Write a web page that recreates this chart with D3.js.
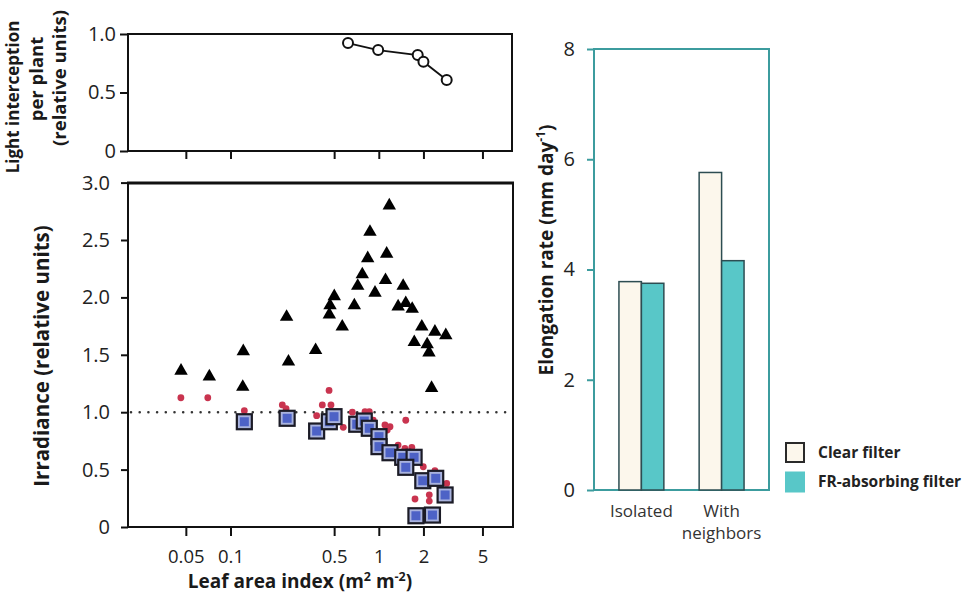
<!DOCTYPE html>
<html>
<head>
<meta charset="utf-8">
<script src="https://cdn.jsdelivr.net/npm/d3@7"></script>
<style>
  html, body { margin: 0; padding: 0; background: #fff; }
  svg { display: block; font-family: "Open Sans", "Noto Sans", sans-serif; }
</style>
</head>
<body>
<svg id="chart" width="969" height="594"></svg>
<script>
// ---------- DATA ----------
const laiTicks = [0.05, 0.1, 0.5, 1, 2, 5];
const irrTicks = [0, 0.5, 1.0, 1.5, 2.0, 2.5, 3.0];
const lightTicks = [0, 0.5, 1.0];

// top panel: light interception per plant
const lightLAI = [0.62, 0.99, 1.83, 2.0, 2.87];
const lightVal = [0.923, 0.863, 0.82, 0.763, 0.607];

// triangles (black)
const triLAI = [0.0464, 0.072, 0.122, 0.121, 0.239, 0.246, 0.375,
  1.177, 0.872, 0.842, 1.13, 0.774, 0.721, 1.11, 0.943, 1.46, 0.501, 0.469, 0.464,
  0.684, 0.567, 1.35, 1.52, 1.68, 1.95, 2.39, 2.83, 1.735, 2.12, 2.18, 2.27];
const triIrr = [1.36, 1.31, 1.53, 1.22, 1.83, 1.44, 1.54,
  2.80, 2.57, 2.34, 2.38, 2.20, 2.10, 2.15, 2.04, 2.10, 2.01, 1.93, 1.85,
  1.93, 1.745, 1.92, 1.95, 1.90, 1.745, 1.70, 1.67, 1.61, 1.59, 1.52, 1.21];

// red dots
const dotLAI = [0.0463, 0.0703, 0.124, 0.2236, 0.237, 0.381, 0.416, 0.462, 0.476,
  0.576, 0.663, 0.807, 0.863, 0.918, 1.10, 1.19, 1.14, 1.52, 1.35, 1.50, 1.67,
  1.995, 2.39, 2.87, 1.755, 2.19, 2.19];
const dotIrr = [1.126, 1.126, 1.013, 1.063, 1.03, 0.97, 1.063, 1.19, 1.063,
  0.868, 1.0, 1.004, 1.004, 0.93, 0.889, 0.874, 0.845, 0.93, 0.714, 0.685, 0.694,
  0.525, 0.49, 0.38, 0.244, 0.28, 0.226];

// blue squares
const sqLAI = [0.124, 0.241, 0.381, 0.464, 0.499, 0.710, 0.798, 0.863, 1.003, 1.003,
  1.19, 1.45, 1.73, 1.52, 1.98, 2.42, 2.80, 1.78, 2.30];
const sqIrr = [0.917, 0.947, 0.836, 0.917, 0.961, 0.895, 0.923, 0.86, 0.787, 0.70,
  0.647, 0.607, 0.607, 0.52, 0.403, 0.424, 0.279, 0.098, 0.104];

// bar chart
const barCategories = ["Isolated", "With neighbors"];
const barSeries = ["Clear filter", "FR-absorbing filter"];
const clearVals = [3.78, 5.76];
const frVals = [3.75, 4.16];
const barTicks = [0, 2, 4, 6, 8];

// ---------- DRAW ----------
const svg = d3.select("#chart");
const FONT = '"Open Sans", "Noto Sans", sans-serif';
const TICKFS = 20;

// shared log x scale
const x = d3.scaleLog().domain([0.02037, 7.91]).range([128, 512]);

// ---- top panel ----
const yTop = d3.scaleLinear().domain([0, 1]).range([151, 34]);
const gTop = svg.append("g");
gTop.append("rect").attr("x", 128).attr("y", 34).attr("width", 384).attr("height", 117)
  .attr("fill", "none").attr("stroke", "#111").attr("stroke-width", 2);
const topY = gTop.append("g").attr("transform", "translate(128,0)")
  .call(d3.axisLeft(yTop).tickValues(lightTicks).tickSize(8).tickPadding(4)
    .tickFormat(d => d === 0 ? "0" : d.toFixed(1)));
const topX = gTop.append("g").attr("transform", "translate(0,151)")
  .call(d3.axisBottom(x).tickValues(laiTicks).tickSize(8).tickFormat(""));
[topY, topX].forEach(a => {
  a.select(".domain").remove();
  a.selectAll("line").attr("stroke", "#111").attr("stroke-width", 2);
  a.selectAll("text").attr("font-size", TICKFS).attr("fill", "#222").attr("font-family", FONT);
});
const lightPts = lightLAI.map((d, i) => [d, lightVal[i]]);
gTop.append("path").datum(lightPts)
  .attr("d", d3.line().x(d => x(d[0])).y(d => yTop(d[1])))
  .attr("fill", "none").attr("stroke", "#111").attr("stroke-width", 1.8);
gTop.selectAll("circle").data(lightPts).join("circle")
  .attr("cx", d => x(d[0])).attr("cy", d => yTop(d[1])).attr("r", 5)
  .attr("fill", "#fff").attr("stroke", "#111").attr("stroke-width", 2);

// top-panel y label (3 lines)
const topLab = [
  {t: "Light interception", bx: 19, cy: 97, fs: 17},
  {t: "per plant", bx: 43, cy: 79, fs: 18.5},
  {t: "(relative units)", bx: 66, cy: 78, fs: 18.5}
];
topLab.forEach(l => {
  svg.append("text").attr("transform", `translate(${l.bx},${l.cy}) rotate(-90)`)
    .attr("text-anchor", "middle").attr("font-size", l.fs).attr("font-weight", "bold")
    .attr("fill", "#1a1a1a").attr("font-family", FONT).text(l.t);
});

// ---- main panel ----
const y = d3.scaleLinear().domain([0, 3]).range([527, 182.6]);
const gMain = svg.append("g");
gMain.append("rect").attr("x", 128).attr("y", 183).attr("width", 385).attr("height", 344)
  .attr("fill", "none").attr("stroke", "#111").attr("stroke-width", 2);
gMain.append("line").attr("x1", 127).attr("x2", 514).attr("y1", 183).attr("y2", 183)
  .attr("stroke", "#111").attr("stroke-width", 3);

const mainY = gMain.append("g").attr("transform", "translate(128,0)")
  .call(d3.axisLeft(y).tickValues(irrTicks).tickSize(7).tickPadding(11)
    .tickFormat(d => d === 0 ? "0" : d.toFixed(1)));
const mainX = gMain.append("g").attr("transform", "translate(0,527)")
  .call(d3.axisBottom(x).tickValues(laiTicks).tickSize(9).tickPadding(13.4)
    .tickFormat(d => String(d)));
[mainY, mainX].forEach(a => {
  a.select(".domain").remove();
  a.selectAll("line").attr("stroke", "#111").attr("stroke-width", 2);
  a.selectAll("text").attr("font-size", TICKFS).attr("fill", "#222").attr("font-family", FONT);
});
mainX.selectAll("text").attr("font-size", 18.5);

// dotted reference line at 1.0
gMain.append("line").attr("x1", 131).attr("x2", 511).attr("y1", y(1)).attr("y2", y(1))
  .attr("stroke", "#333").attr("stroke-width", 2.6).attr("stroke-linecap", "round")
  .attr("stroke-dasharray", "0,8.7");

// triangles
const tri = d3.symbol().type(d3.symbolTriangle).size(78);
gMain.selectAll("path.tri").data(triLAI.map((d, i) => [d, triIrr[i]])).join("path")
  .attr("class", "tri")
  .attr("transform", d => `translate(${x(d[0])},${y(d[1])})`)
  .attr("d", tri).attr("fill", "#000");

// red dots
gMain.selectAll("circle.dot").data(dotLAI.map((d, i) => [d, dotIrr[i]])).join("circle")
  .attr("class", "dot")
  .attr("cx", d => x(d[0])).attr("cy", d => y(d[1])).attr("r", 3.4)
  .attr("fill", "#c9344f");

// blue squares
const sqData = sqLAI.map((d, i) => [d, sqIrr[i]]);
const sqG = gMain.selectAll("g.sq").data(sqData).join("g").attr("class", "sq")
  .attr("transform", d => `translate(${x(d[0])},${y(d[1])})`);
sqG.append("rect").attr("x", -7.5).attr("y", -7.5).attr("width", 15).attr("height", 15)
  .attr("fill", "#a9b3de").attr("stroke", "#1b1b26").attr("stroke-width", 2.2);
sqG.append("rect").attr("x", -4.5).attr("y", -4.5).attr("width", 9).attr("height", 9)
  .attr("fill", "#4d62c6");

// main labels
svg.append("text").attr("transform", "translate(49,356) rotate(-90)")
  .attr("text-anchor", "middle").attr("font-size", 20.5).attr("font-weight", "bold")
  .attr("fill", "#1a1a1a").attr("font-family", FONT).text("Irradiance (relative units)");

const xl = svg.append("text").attr("x", 300).attr("y", 588.1).attr("text-anchor", "middle")
  .attr("font-size", 19).attr("font-weight", "bold").attr("fill", "#1a1a1a").attr("font-family", FONT);
xl.append("tspan").text("Leaf area index (m");
xl.append("tspan").attr("font-size", 12.5).attr("dy", -7.5).text("2");
xl.append("tspan").attr("dy", 7.5).text(" m");
xl.append("tspan").attr("font-size", 12.5).attr("dy", -7.5).text("-2");
xl.append("tspan").attr("dy", 7.5).text(")");

// ---- bar chart ----
const TEAL = "#3c9c9e";
const yb = d3.scaleLinear().domain([0, 8]).range([490, 49]);
const xb = d3.scaleBand().domain(barCategories).range([594, 769])
  .paddingInner(0.44).paddingOuter(0.311);
const xs = d3.scaleBand().domain(barSeries).range([0, xb.bandwidth()]);
const fills = {"Clear filter": "#fcf7ec", "FR-absorbing filter": "#58c7c8"};

const gBar = svg.append("g");
gBar.append("rect").attr("x", 594).attr("y", 49).attr("width", 175).attr("height", 441)
  .attr("fill", "none").attr("stroke", TEAL).attr("stroke-width", 2);
const barY = gBar.append("g").attr("transform", "translate(594,0)")
  .call(d3.axisLeft(yb).tickValues(barTicks).tickSize(7).tickPadding(12));
barY.select(".domain").remove();
barY.selectAll("line").attr("stroke", TEAL).attr("stroke-width", 2);
barY.selectAll("text").attr("font-size", TICKFS).attr("fill", "#222").attr("font-family", FONT);

const barData = [];
barCategories.forEach((c, i) => {
  barData.push({c, s: barSeries[0], v: clearVals[i]});
  barData.push({c, s: barSeries[1], v: frVals[i]});
});
gBar.selectAll("rect.bar").data(barData).join("rect").attr("class", "bar")
  .attr("x", d => xb(d.c) + xs(d.s)).attr("width", xs.bandwidth())
  .attr("y", d => yb(d.v)).attr("height", d => yb(0) - yb(d.v))
  .attr("fill", d => fills[d.s]).attr("stroke", "#2d4d52").attr("stroke-width", 1.5);

// category labels
barCategories.forEach(c => {
  const words = c === "With neighbors" ? ["With", "neighbors"] : [c];
  const t = gBar.append("text").attr("x", xb(c) + xb.bandwidth() / 2).attr("y", 517)
    .attr("text-anchor", "middle").attr("font-size", 17).attr("fill", "#333")
    .attr("font-family", FONT);
  words.forEach((w, k) => {
    t.append("tspan").attr("x", xb(c) + xb.bandwidth() / 2).attr("dy", k === 0 ? 0 : 22).text(w);
  });
});

const yl = svg.append("text").attr("transform", "translate(553,250) rotate(-90)")
  .attr("text-anchor", "middle").attr("font-size", 19).attr("font-weight", "bold")
  .attr("fill", "#1a1a1a").attr("font-family", FONT);
yl.append("tspan").text("Elongation rate (mm day");
yl.append("tspan").attr("font-size", 12).attr("dy", -8).text("-1");
yl.append("tspan").attr("dy", 8).text(")");

// legend
const lg = svg.append("g");
barSeries.forEach((s, i) => {
  const yy = 442 + i * 29.5;
  lg.append("rect").attr("x", i === 0 ? 786 : 785).attr("y", i === 0 ? yy + 1 : yy)
    .attr("width", i === 0 ? 18 : 20).attr("height", i === 0 ? 19 : 21)
    .attr("fill", fills[s]).attr("stroke", i === 0 ? "#2a2a2a" : "none").attr("stroke-width", 2);
  lg.append("text").attr("x", 818).attr("y", yy + 15.5).attr("font-size", 15.5)
    .attr("font-weight", "bold").attr("fill", "#222").attr("font-family", FONT).text(s);
});
</script>
</body>
</html>
